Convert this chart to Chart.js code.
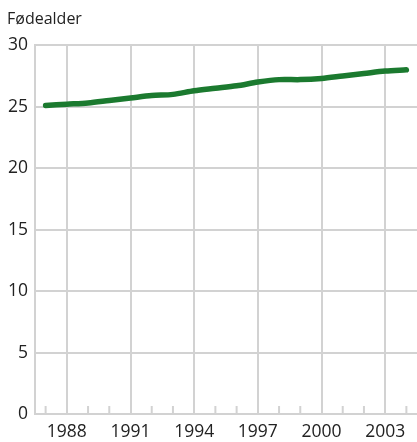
<!DOCTYPE html>
<html>
<head>
<meta charset="utf-8">
<script src="https://cdn.jsdelivr.net/npm/chart.js@4/dist/chart.umd.min.js"></script>
<style>
  html, body { margin: 0; padding: 0; background: #fff; }
  #wrap { width: 417px; height: 442px; }
</style>
</head>
<body>
<div id="wrap"><canvas id="chart"></canvas></div>
<script>
// År (x-akse) og gjennomsnittlig fødealder
const years = [1987, 1988, 1989, 1990, 1991, 1992, 1993, 1994, 1995,
  1996, 1997, 1998, 1999, 2000, 2001, 2002, 2003, 2004];
const fodealder = [25.1, 25.2, 25.3, 25.5, 25.7, 25.9, 26.0, 26.3, 26.5,
  26.7, 27.0, 27.2, 27.2, 27.3, 27.5, 27.7, 27.9, 28.0];
const labelYears = [1988, 1991, 1994, 1997, 2000, 2003];
const yTicks = [0, 5, 10, 15, 20, 25, 30];

const gridColor = "#d2d2d2";
const textColor = "#222222";

// Små tikkmerker innover fra x-aksen for hvert år
const minorTicks = {
  id: "minorTicks",
  afterDraw(chart) {
    const ctx = chart.ctx;
    const x = chart.scales.x;
    const bottom = chart.chartArea.bottom;
    ctx.save();
    ctx.strokeStyle = gridColor;
    ctx.lineWidth = 2;
    years.forEach(function (yr, i) {
      if (labelYears.includes(yr)) return;
      const px = x.getPixelForValue(i);
      ctx.beginPath();
      ctx.moveTo(px, bottom);
      ctx.lineTo(px, bottom - 8);
      ctx.stroke();
    });
    ctx.restore();
  },
};

new Chart(document.getElementById("chart"), {
  type: "line",
  data: {
    labels: years.map(String),
    datasets: [
      {
        label: "Fødealder",
        data: fodealder,
        borderColor: "#1b7a2f",
        borderWidth: 5.5,
        borderCapStyle: "round",
        borderJoinStyle: "round",
        pointRadius: 0,
        tension: 0.3,
        fill: false,
      },
    ],
  },
  options: {
    responsive: true,
    maintainAspectRatio: false,
    animation: false,
    layout: { padding: { top: 0, right: 0, bottom: 0, left: 7 } },
    plugins: {
      legend: { display: false },
      tooltip: { enabled: false },
      title: {
        display: true,
        text: "Fødealder",
        align: "start",
        color: textColor,
        font: { family: "Open Sans", size: 16, weight: "normal" },
        padding: { top: 10, bottom: 16 },
      },
    },
    scales: {
      x: {
        type: "category",
        offset: true,
        grid: {
          offset: false,
          drawTicks: false,
          lineWidth: 2,
          color: function (c) {
            return labelYears.includes(years[c.index]) ? gridColor : "rgba(0,0,0,0)";
          },
        },
        border: { display: true, color: gridColor, width: 2 },
        ticks: {
          autoSkip: false,
          maxRotation: 0,
          padding: 8,
          color: textColor,
          font: { family: "Open Sans", size: 17.5 },
          callback: function (val, i) {
            return labelYears.includes(years[i]) ? String(years[i]) : "";
          },
        },
        afterFit: function (s) { s.height = 28; },
      },
      y: {
        min: 0,
        max: 30,
        grid: { color: gridColor, lineWidth: 2, drawTicks: false },
        border: { display: true, color: gridColor, width: 2 },
        ticks: {
          stepSize: 5,
          padding: 7,
          color: textColor,
          font: { family: "Open Sans", size: 17.5 },
        },
        afterBuildTicks: function (s) {
          s.ticks = yTicks.map(function (v) { return { value: v }; });
        },
        afterFit: function (s) { s.width = 28; },
      },
    },
  },
  plugins: [minorTicks],
});
</script>
</body>
</html>
